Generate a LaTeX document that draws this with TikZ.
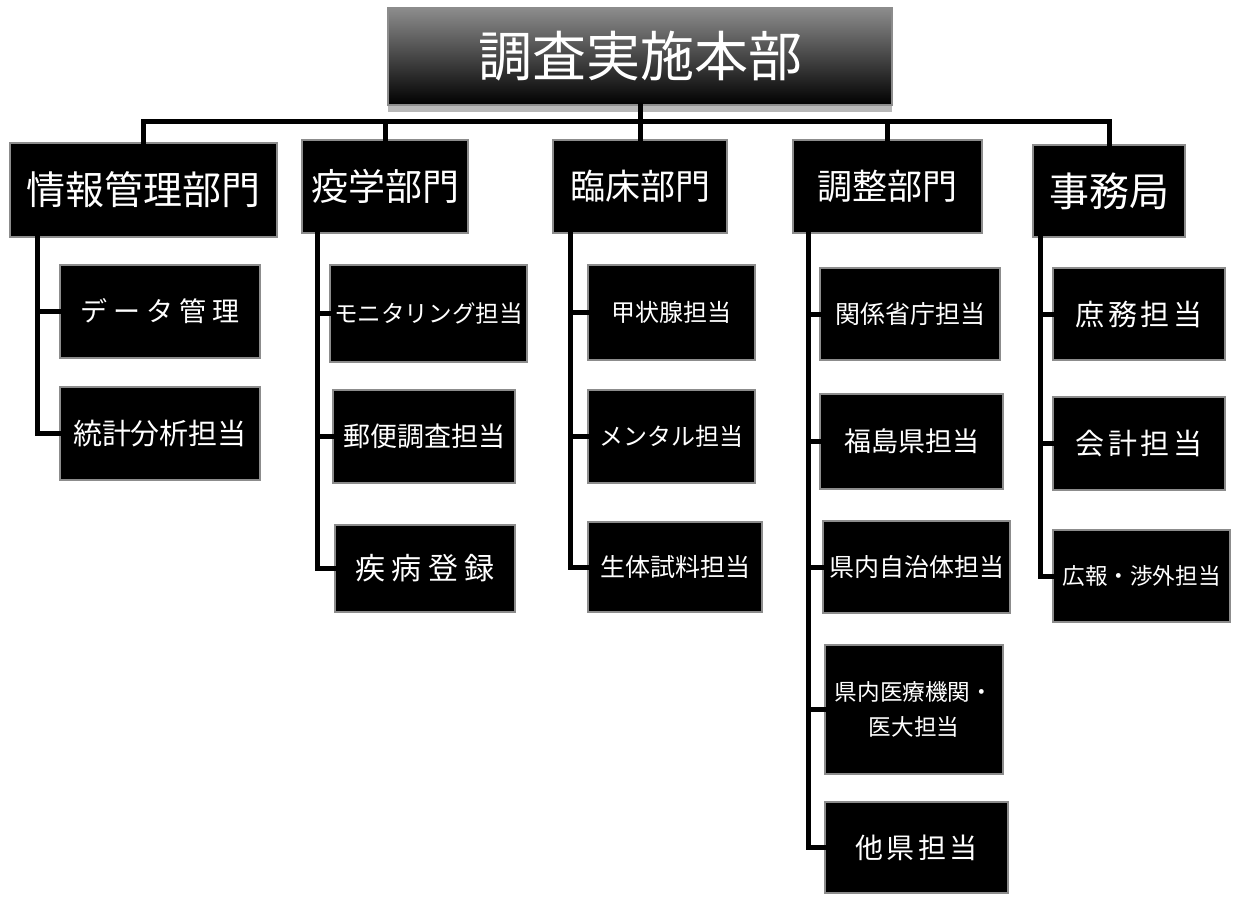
\documentclass[tikz,border=0pt]{standalone}
\usepackage{fontspec}
\newfontfamily\cjk{Noto Sans CJK JP}
\newfontfamily\cjkwa[LetterSpace=12]{Noto Sans CJK JP}
\newfontfamily\cjkwb[LetterSpace=22]{Noto Sans CJK JP}
\newcommand{\myfs}[1]{\fontsize{#1}{#1}\selectfont}
\begin{document}
\begin{tikzpicture}[x=0.5pt,y=-0.5pt,
  box/.style={fill=black, draw=black!45, line width=0.8pt, text=white, inner sep=0pt, align=center},
  topbox/.style={box, top color=black!45, middle color=black!82, bottom color=black},
  lone/.style={box, minimum height=46.5pt},
  ltwo/.style={box},
  conn/.style={line width=2.5pt, line cap=rect, line join=miter}]
\useasboundingbox[fill=white] (0,0) rectangle (1233,896);

% top
\fill[black!28] (388,105) rectangle (892,112);
\node[topbox, minimum width=252pt, minimum height=48.5pt, font={\cjk\myfs{27pt}}] (top) at (640,56.5) {調査実施本部};

% level 1
\node[lone, minimum width=133.5pt, minimum height=47pt, font={\cjk\myfs{19.5pt}}] (info) at (143.5,190) {情報管理部門};
\node[lone, minimum width=83pt, font={\cjk\myfs{18.5pt}}] (eki) at (385,186.5) {疫学部門};
\node[lone, minimum width=87pt, font={\cjk\myfs{17.5pt}}] (rin) at (640,186.5) {臨床部門};
\node[lone, minimum width=94.5pt, font={\cjk\myfs{17.5pt}}] (cho) at (887.5,186.5) {調整部門};
\node[lone, minimum width=76pt, minimum height=46pt, font={\cjk\myfs{20pt}}] (jim) at (1109,191) {事務局};

% level 2 col 1
\node[ltwo, minimum width=100pt, minimum height=46.5pt, font={\cjkwb\myfs{13.5pt}}] (data) at (160,311.5) {データ管理};
\node[ltwo, minimum width=100pt, minimum height=46.5pt, font={\cjk\myfs{14.5pt}}] (toukei) at (160,433.5) {統計分析担当};
% col 2
\node[ltwo, minimum width=98.5pt, minimum height=48.5pt, font={\cjk\myfs{11.8pt}}] (moni) at (428.5,313.5) {モニタリング担当};
\node[ltwo, minimum width=91pt, minimum height=46.5pt, font={\cjk\myfs{13.5pt}}] (yuubin) at (424,436.5) {郵便調査担当};
\node[ltwo, minimum width=90pt, minimum height=43.5pt, font={\cjkwb\myfs{15pt}}] (shippei) at (425,568.5) {疾病登録};
% col 3
\node[ltwo, minimum width=83.5pt, minimum height=47.5pt, font={\cjk\myfs{12pt}}] (kou) at (671.5,312.5) {甲状腺担当};
\node[ltwo, minimum width=83.5pt, minimum height=46.5pt, font={\cjk\myfs{12pt}}] (mental) at (671.5,436.5) {メンタル担当};
\node[ltwo, minimum width=87pt, minimum height=45pt, font={\cjk\myfs{12.5pt}}] (seitai) at (675,567) {生体試料担当};
% col 4
\node[ltwo, minimum width=90pt, minimum height=46pt, font={\cjk\myfs{12.5pt}}] (kankei) at (910,314) {関係省庁担当};
\node[ltwo, minimum width=91.5pt, minimum height=47.5pt, font={\cjk\myfs{13.5pt}}] (fuku) at (911.5,441.5) {福島県担当};
\node[ltwo, minimum width=93.5pt, minimum height=46pt, font={\cjk\myfs{12.5pt}}] (jichi) at (916.5,567) {県内自治体担当};
\node[ltwo, minimum width=89pt, minimum height=64.5pt, font={\cjk\myfs{11.3pt}}] (iryou) at (914,709.5) {県内医療機関・\\[6pt]医大担当};
\node[ltwo, minimum width=91.5pt, minimum height=45.5pt, font={\cjkwa\myfs{14pt}}] (taken) at (916.5,847.5) {他県担当};
% col 5
\node[ltwo, minimum width=86pt, minimum height=46pt, font={\cjkwa\myfs{14.5pt}}] (shomu) at (1139,314) {庶務担当};
\node[ltwo, minimum width=86pt, minimum height=46.5pt, font={\cjkwa\myfs{14.5pt}}] (kaikei) at (1139,443.5) {会計担当};
\node[ltwo, minimum width=88.5pt, minimum height=46pt, font={\cjk\myfs{11.3pt}}] (kouhou) at (1141.5,576) {広報・渉外担当};

% bus
\coordinate (busL) at (140,121);
\draw[conn] (info.north) -- (info.north |- busL) -- (jim.north |- busL) -- (jim.north);
\draw[conn] (top.south) -- (top.south |- busL);
\draw[conn] (eki.north) -- (eki.north |- busL);
\draw[conn] (rin.north) -- (rin.north |- busL);
\draw[conn] (cho.north) -- (cho.north |- busL);

% column lines
\coordinate (v1) at (37,0);
\coordinate (v2) at (317,0);
\coordinate (v3) at (570,0);
\coordinate (v4) at (808,0);
\coordinate (v5) at (1040,0);

\draw[conn] (info.south -| v1) |- (toukei.west);
\draw[conn] (data.west -| v1) -- (data.west);

\draw[conn] (eki.south -| v2) |- (shippei.west);
\draw[conn] (moni.west -| v2) -- (moni.west);
\draw[conn] (yuubin.west -| v2) -- (yuubin.west);

\draw[conn] (rin.south -| v3) |- (seitai.west);
\draw[conn] (kou.west -| v3) -- (kou.west);
\draw[conn] (mental.west -| v3) -- (mental.west);

\draw[conn] (cho.south -| v4) |- (taken.west);
\draw[conn] (kankei.west -| v4) -- (kankei.west);
\draw[conn] (fuku.west -| v4) -- (fuku.west);
\draw[conn] (jichi.west -| v4) -- (jichi.west);
\draw[conn] (iryou.west -| v4) -- (iryou.west);

\draw[conn] (jim.south -| v5) |- (kouhou.west);
\draw[conn] (shomu.west -| v5) -- (shomu.west);
\draw[conn] (kaikei.west -| v5) -- (kaikei.west);
\end{tikzpicture}
\end{document}
